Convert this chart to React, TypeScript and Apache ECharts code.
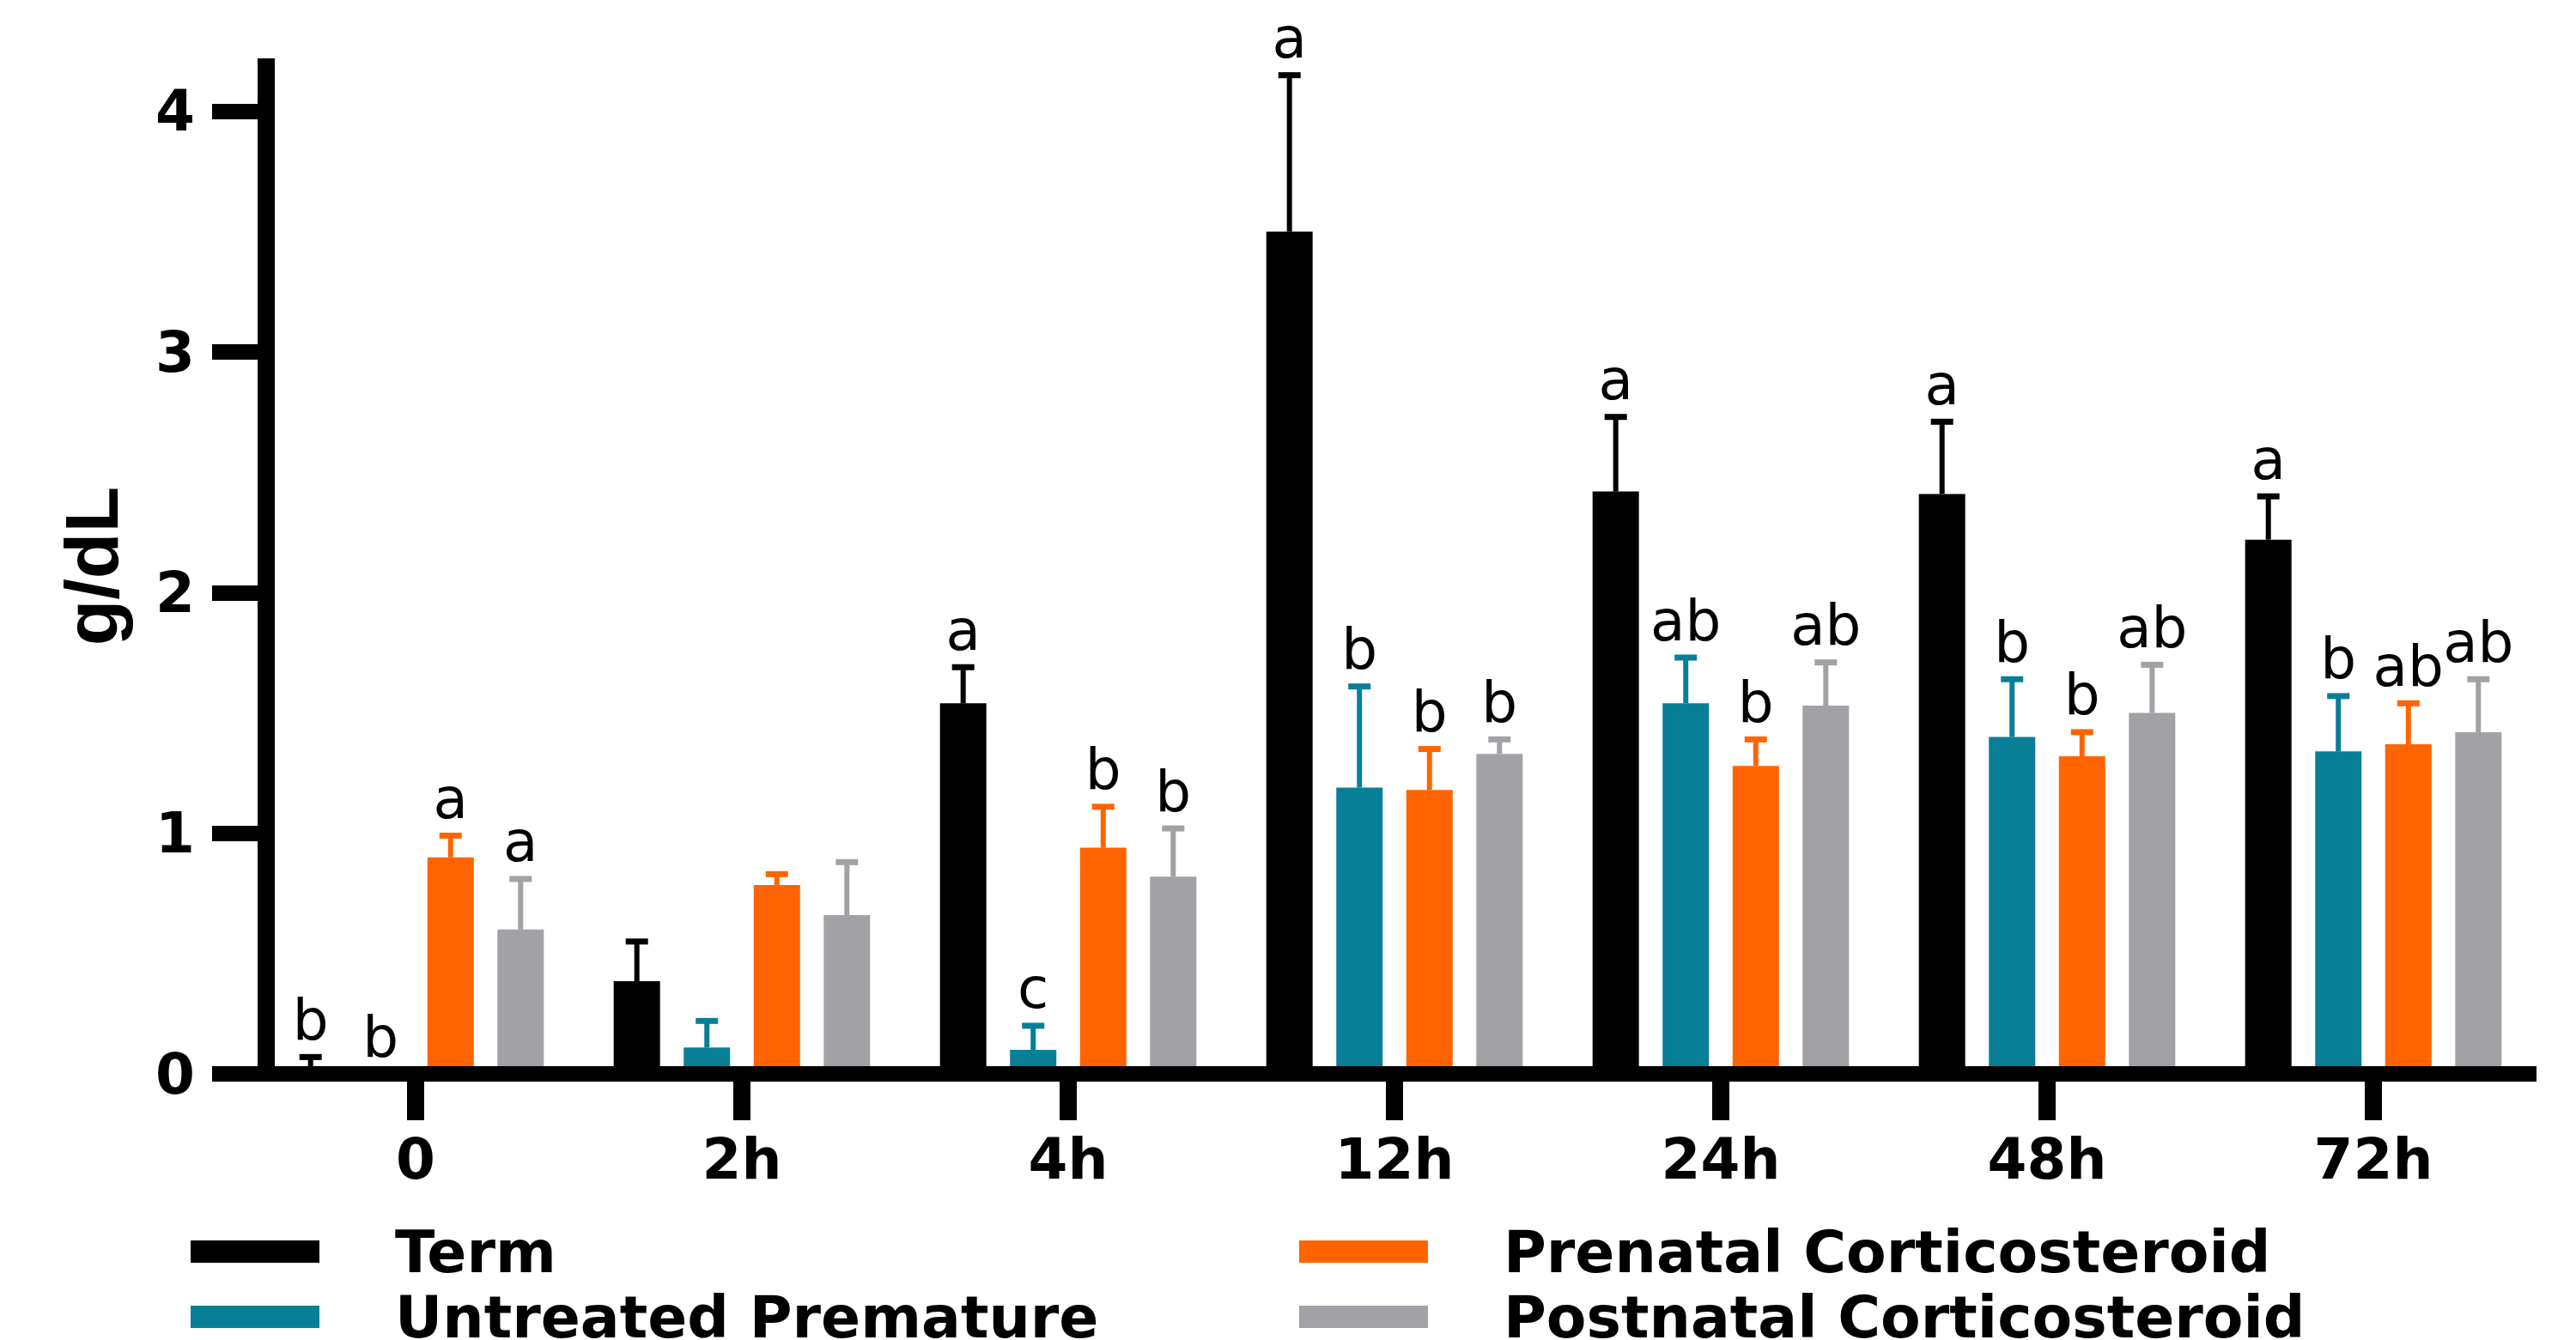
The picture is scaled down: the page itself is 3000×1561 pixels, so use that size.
import React, { useEffect, useRef } from 'react';
import * as echarts from 'echarts';

const categories = ['0', '2h', '4h', '12h', '24h', '48h', '72h'];
const groupNames = ['Term', 'Untreated Premature', 'Prenatal Corticosteroid', 'Postnatal Corticosteroid'];
const groupColors = ['#000000', '#087F97', '#FF6400', '#A2A1A6'];

const termMean = [0.03, 0.385, 1.54, 3.5, 2.42, 2.41, 2.22];
const termSD = [0.04, 0.165, 0.15, 0.65, 0.31, 0.3, 0.18];
const untreatedMean = [0, 0.11, 0.1, 1.19, 1.54, 1.4, 1.34];
const untreatedSD = [0, 0.11, 0.1, 0.42, 0.19, 0.24, 0.23];
const prenatalMean = [0.9, 0.785, 0.94, 1.18, 1.28, 1.32, 1.37];
const prenatalSD = [0.09, 0.045, 0.17, 0.17, 0.11, 0.1, 0.17];
const postnatalMean = [0.6, 0.66, 0.82, 1.33, 1.53, 1.5, 1.42];
const postnatalSD = [0.21, 0.22, 0.2, 0.06, 0.18, 0.2, 0.22];

const termLetters = ['b', '', 'a', 'a', 'a', 'a', 'a'];
const untreatedLetters = ['b', '', 'c', 'b', 'ab', 'b', 'b'];
const prenatalLetters = ['a', '', 'b', 'b', 'b', 'b', 'ab'];
const postnatalLetters = ['a', '', 'b', 'b', 'ab', 'ab', 'ab'];

const yTicks = [0, 1, 2, 3, 4];

const means = [termMean, untreatedMean, prenatalMean, postnatalMean];
const sds = [termSD, untreatedSD, prenatalSD, postnatalSD];
const letters = [termLetters, untreatedLetters, prenatalLetters, postnatalLetters];

const BAR_WIDTH = 54;
const BAR_GAP = 0.51;
const STEP = BAR_WIDTH * (1 + BAR_GAP);

// legend layout: column x (left) and row y (top) for each group
const legendLeft = [222, 222, 1513, 1513];
const legendTop = [1424, 1500, 1424, 1500];

export default function App() {
  const ref = useRef<HTMLDivElement>(null);

  useEffect(() => {
    if (!ref.current) return;
    const chart = echarts.init(ref.current, undefined, { renderer: 'svg' });

    const barSeries = groupNames.map((name, g) => ({
      name,
      type: 'bar',
      data: means[g],
      barWidth: BAR_WIDTH,
      barGap: BAR_GAP * 100 + '%',
      itemStyle: { color: groupColors[g] },
      z: 2,
    }));

    const errSeries = groupNames.map((name, g) => ({
      type: 'custom',
      z: 3,
      clip: false,
      silent: true,
      data: categories.map((_, i) => [i, means[g][i], means[g][i] + sds[g][i]]),
      renderItem: (params: any, api: any) => {
        const ci = api.value(0);
        const mean = api.value(1);
        const top = api.value(2);
        const base = api.coord([ci, mean]);
        const tp = api.coord([ci, top]);
        const x = base[0] + (g - 1.5) * STEP;
        const children: any[] = [];
        if (top > mean) {
          children.push({
            type: 'line',
            shape: { x1: x, y1: base[1], x2: x, y2: tp[1] },
            style: { stroke: groupColors[g], lineWidth: 6 },
          });
          children.push({
            type: 'line',
            shape: { x1: x - 13, y1: tp[1], x2: x + 13, y2: tp[1] },
            style: { stroke: groupColors[g], lineWidth: 7 },
          });
        }
        const letter = letters[g][params.dataIndex];
        if (letter) {
          children.push({
            type: 'text',
            style: {
              text: letter,
              x,
              y: tp[1] - 10,
              textAlign: 'center',
              textVerticalAlign: 'bottom',
              fontSize: 66,
              fontFamily: 'DejaVu Sans',
              fill: '#000',
            },
          });
        }
        return { type: 'group', children };
      },
    }));

    const legendText = {
      fontFamily: 'DejaVu Sans',
      fontWeight: 'bold',
      fontSize: 68,
      lineHeight: 50,
      color: '#000',
      padding: [0, 0, 0, 83],
    };

    const legends = groupNames.map((name, g) => ({
      left: legendLeft[g],
      top: legendTop[g],
      orient: 'horizontal',
      padding: 0,
      itemWidth: 150,
      itemHeight: 26,
      icon: 'rect',
      selectedMode: false,
      textStyle: legendText,
      data: [name],
    }));

    chart.setOption({
      animation: false,
      backgroundColor: '#ffffff',
      grid: { left: 294, top: 68, width: 2660, height: 1183, containLabel: false },
      legend: legends,
      xAxis: {
        type: 'category',
        data: categories,
        z: 10,
        axisLine: { show: true, lineStyle: { color: '#000', width: 18, cap: 'butt' } },
        axisTick: { show: true, alignWithLabel: true, length: 54, lineStyle: { color: '#000', width: 20, cap: 'butt' } },
        axisLabel: {
          margin: 66,
          fontSize: 66,
          fontWeight: 'bold',
          fontFamily: 'DejaVu Sans',
          color: '#000',
        },
        splitLine: { show: false },
      },
      yAxis: {
        type: 'value',
        min: 0,
        max: 4.22,
        interval: 1,
        offset: -16,
        z: 10,
        name: 'g/dL',
        nameLocation: 'middle',
        nameGap: 160,
        nameRotate: 90,
        nameTextStyle: {
          fontFamily: 'Liberation Sans',
          fontWeight: 'bold',
          fontSize: 88,
          color: '#000',
        },
        axisLine: { show: true, lineStyle: { color: '#000', width: 20, cap: 'butt' } },
        axisTick: { show: true, length: 63, lineStyle: { color: '#000', width: 18, cap: 'butt' }, customValues: yTicks },
        axisLabel: {
          customValues: yTicks,
          margin: 83,
          fontSize: 66,
          fontWeight: 'bold',
          fontFamily: 'DejaVu Sans',
          color: '#000',
        },
        splitLine: { show: false },
      },
      series: [...barSeries, ...errSeries],
    });

    return () => {
      chart.dispose();
    };
  }, []);

  return (
    <div
      ref={ref}
      style={{ position: 'fixed', left: 0, top: 0, width: 3000, height: 1561, background: '#fff' }}
    />
  );
}
